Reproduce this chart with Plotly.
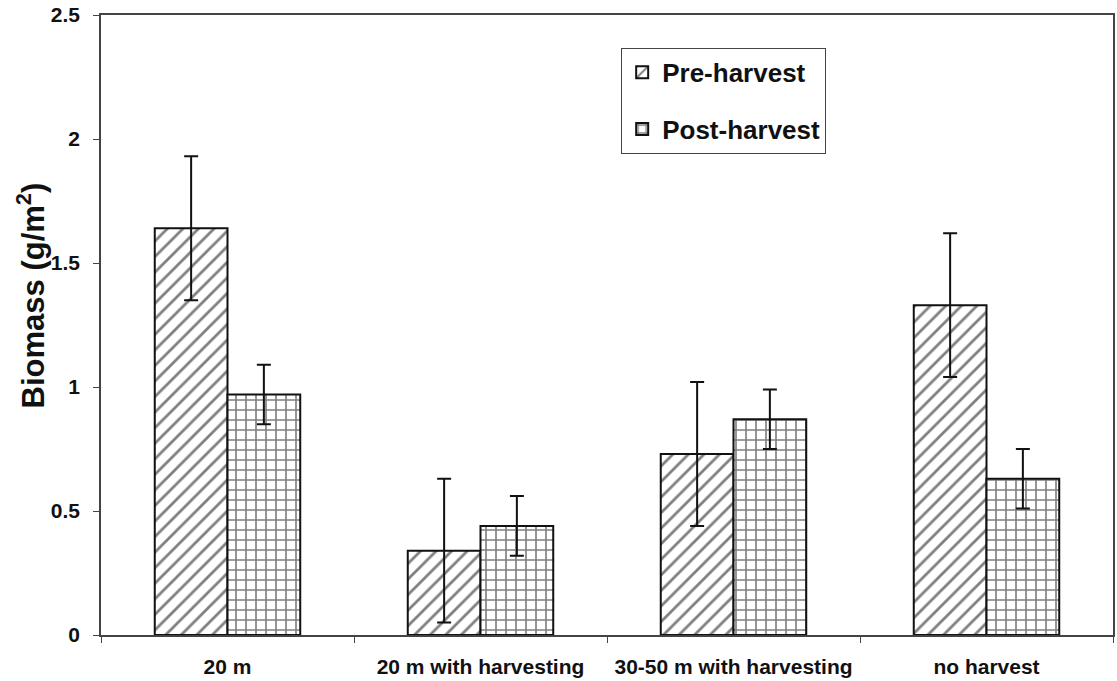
import plotly.graph_objects as go

categories = ["20 m", "20 m with harvesting", "30-50 m with harvesting", "no harvest"]
pre_harvest = [1.64, 0.34, 0.73, 1.33]
pre_err = [0.29, 0.29, 0.29, 0.29]
post_harvest = [0.97, 0.44, 0.87, 0.63]
post_err = [0.12, 0.12, 0.12, 0.12]
y_ticks = [0, 0.5, 1, 1.5, 2, 2.5]
y_ticklabels = ["0", "0.5", "1", "1.5", "2", "2.5"]

FONT = "Arial, Liberation Sans, sans-serif"
INK = "#111111"

fig = go.Figure()
fig.add_trace(go.Bar(
    name="Pre-harvest", x=categories, y=pre_harvest, legendgroup="a",
    marker=dict(color="white", line=dict(color=INK, width=2),
                pattern=dict(shape="/", fgcolor="#000000", bgcolor="white", size=11, solidity=0.25)),
    error_y=dict(type="data", array=pre_err, color=INK, thickness=2, width=7),
))
fig.add_trace(go.Bar(
    name="Post-harvest", x=categories, y=post_harvest, legendgroup="b",
    marker=dict(color="white", line=dict(color=INK, width=2),
                pattern=dict(shape="+", fgcolor="#000000", bgcolor="white", size=10, solidity=0.3)),
    error_y=dict(type="data", array=post_err, color=INK, thickness=2, width=7),
))

fig.add_annotation(
    text="Biomass (g/m<sup>2</sup>)", xref="paper", yref="paper",
    x=-0.069, y=0.548, xanchor="center", yanchor="middle", textangle=-90,
    showarrow=False, font=dict(size=31, family=FONT, color=INK, weight="bold"),
)

fig.update_layout(
    width=1117, height=681,
    margin=dict(l=101, r=2, t=15, b=46),
    paper_bgcolor="white", plot_bgcolor="white",
    barmode="group", bargap=0.425, bargroupgap=0,
    font=dict(family=FONT, color=INK, weight="bold"),
    showlegend=True,
    legend=dict(x=0.514, y=0.947, xanchor="left", yanchor="top",
                bordercolor="#444444", borderwidth=1, bgcolor="white",
                font=dict(size=26, family=FONT, color=INK, weight="bold"),
                tracegroupgap=20, traceorder="grouped"),
    xaxis=dict(showline=True, linecolor="#444444", linewidth=1.5, mirror=True,
               ticks="outside", tickson="boundaries", ticklen=6, tickcolor="#444444",
               tickfont=dict(size=21, family=FONT, color=INK, weight="bold"), ticklabelstandoff=12,
               showgrid=False),
    yaxis=dict(range=[0, 2.5], showline=True, linecolor="#444444", linewidth=1.5, mirror=True,
               ticks="outside", ticklen=6, tickcolor="#444444",
               tickvals=y_ticks, ticktext=y_ticklabels,
               tickfont=dict(size=21, family=FONT, color=INK, weight="bold"), ticklabelstandoff=9,
               showgrid=False, zeroline=False),
)

fig.write_html("out.html")
